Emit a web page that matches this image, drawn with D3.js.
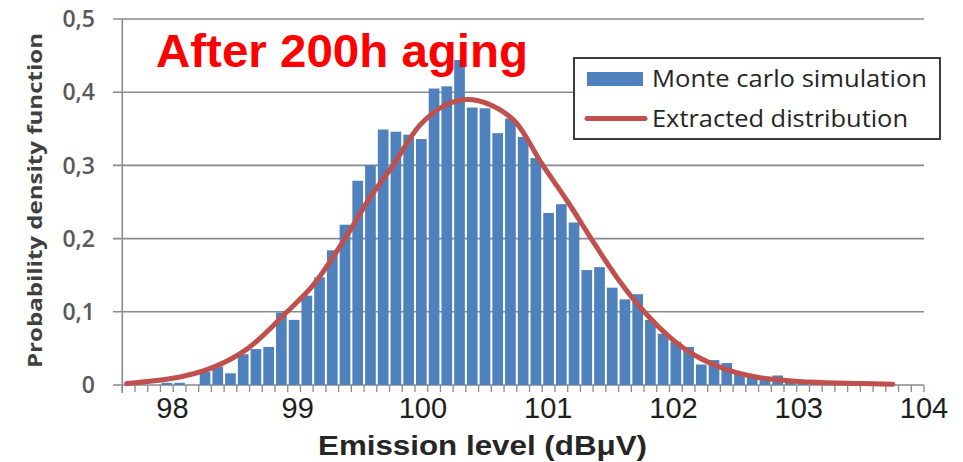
<!DOCTYPE html>
<html><head><meta charset="utf-8">
<script src="https://cdn.jsdelivr.net/npm/d3@7"></script>
<style>body{margin:0;background:#fff}svg{display:block}</style>
</head><body>
<svg id="c" width="963" height="462"></svg>
<script>
// ---- data ----
const binIndex = d3.range(63); // histogram bins (categories)
const mcDensity = [0,0,0,0.003,0.003,0,0.018,0.025,0.016,0.042,
  0.049,0.052,0.099,0.089,0.122,0.147,0.184,0.219,0.279,0.300,
  0.349,0.346,0.342,0.336,0.405,0.408,0.444,0.379,0.378,0.344,
  0.364,0.339,0.310,0.235,0.247,0.222,0.157,0.161,0.133,0.117,
  0.124,0.089,0.070,0.059,0.052,0.028,0.034,0.030,0.016,0.011,
  0.009,0.013,0.004,0.003,0.002,0.002,0,0,0,0,0,0,0];
const fitX = [97.635,98.061,98.324,98.595,98.915,99.122,99.378,99.577,99.761,99.976,
  100.175,100.351,100.535,100.735,100.950,101.157,101.373,101.573,101.772,101.972,
  102.155,102.427,102.690,103.090,103.489,103.752];
const fitY = [0.002,0.011,0.024,0.049,0.100,0.136,0.200,0.256,0.300,0.355,
  0.382,0.390,0.383,0.360,0.302,0.250,0.192,0.141,0.099,0.065,
  0.042,0.021,0.010,0.004,0.002,0.001];
const xTickValues = [98,99,100,101,102,103,104];
const yTickValues = [0,0.1,0.2,0.3,0.4,0.5];
const yTickLabels = ["0","0,1","0,2","0,3","0,4","0,5"];
const titleText = "After 200h aging";
const xTitle = "Emission level (dBμV)";
const yTitle = "Probability density function";
const legendLabels = ["Monte carlo simulation","Extracted distribution"];

// ---- layout ----
const L = 122.3, R = 924, T = 19, B = 385;
const svg = d3.select("#c");

const y = d3.scaleLinear().domain([0,0.5]).range([B,T]);
const xb = d3.scaleBand().domain(binIndex).range([L,R]).paddingInner(0.16).paddingOuter(0.08);
const xEdge = d3.scaleLinear().domain([0,binIndex.length]).range([L,R]);
const xE = d3.scaleLinear().domain([97.6,104]).range([L,R]);

// gridlines
svg.append("g").selectAll("line").data(yTickValues).join("line")
  .attr("x1",113).attr("x2",R).attr("y1",d=>y(d)).attr("y2",d=>y(d))
  .attr("stroke","#8a8a8a").attr("stroke-width",1.6);

// y axis line
svg.append("line").attr("x1",L).attr("x2",L).attr("y1",T).attr("y2",B+8)
  .attr("stroke","#8a8a8a").attr("stroke-width",1.6);

// x ticks at bin edges
svg.append("g").selectAll("line").data(d3.range(binIndex.length+1)).join("line")
  .attr("x1",d=>xEdge(d)).attr("x2",d=>xEdge(d)).attr("y1",B).attr("y2",B+7)
  .attr("stroke","#8a8a8a").attr("stroke-width",1.3);

// bars
svg.append("g").selectAll("rect").data(binIndex).join("rect")
  .attr("x",i=>xb(i)).attr("width",xb.bandwidth())
  .attr("y",i=>y(mcDensity[i])).attr("height",i=>B-y(mcDensity[i]))
  .attr("fill","#4f81bd");

// fitted curve
const line = d3.line().x(d=>xE(d[0])).y(d=>y(d[1])).curve(d3.curveCatmullRom.alpha(0.5));
svg.append("path").datum(d3.zip(fitX,fitY)).attr("d",line)
  .attr("fill","none").attr("stroke","#c0504d").attr("stroke-width",5)
  .attr("stroke-linecap","round").attr("stroke-linejoin","round");

// y tick labels
svg.append("g").selectAll("text").data(yTickValues).join("text")
  .attr("x",95).attr("y",d=>y(d)).attr("dy","0.36em")
  .attr("text-anchor","end").attr("font-family","'Open Sans',sans-serif")
  .attr("font-weight",600).attr("font-size",23).attr("fill","#595959")
  .text((d,i)=>yTickLabels[i]);

// x tick labels
svg.append("g").selectAll("text").data(xTickValues).join("text")
  .attr("x",d=>xE(d)).attr("y",418)
  .attr("text-anchor","middle").attr("font-family","'Liberation Sans',Arial,sans-serif")
  .attr("font-size",29).attr("fill","#1e1e1e")
  .text(d=>d);

// axis titles
svg.append("text").attr("x",482.5).attr("y",455).attr("text-anchor","middle")
  .attr("font-family","'Liberation Sans',Arial,sans-serif").attr("font-weight","bold")
  .attr("font-size",27).attr("fill","#262626")
  .attr("textLength",329).attr("lengthAdjust","spacingAndGlyphs").text(xTitle);

svg.append("text").attr("transform","translate(41.5,200.5) rotate(-90)")
  .attr("text-anchor","middle").attr("font-family","'Open Sans',sans-serif")
  .attr("font-weight","bold").attr("font-size",20).attr("fill","#404040")
  .attr("textLength",335).attr("lengthAdjust","spacingAndGlyphs").text(yTitle);

// title
svg.append("text").attr("x",156).attr("y",67)
  .attr("font-family","'Liberation Sans',Arial,sans-serif").attr("font-weight","bold")
  .attr("font-size",46).attr("fill","#ff0000")
  .attr("textLength",372).attr("lengthAdjust","spacingAndGlyphs").text(titleText);

// legend
const lg = svg.append("g");
lg.append("rect").attr("x",574).attr("y",58).attr("width",366).attr("height",81)
  .attr("fill","#fff").attr("stroke","#3c3c3c").attr("stroke-width",2);
lg.append("rect").attr("x",587).attr("y",72).attr("width",56).attr("height",14).attr("fill","#4f81bd");
lg.append("line").attr("x1",587).attr("x2",645).attr("y1",118.5).attr("y2",118.5)
  .attr("stroke","#c0504d").attr("stroke-width",5).attr("stroke-linecap","round");
lg.selectAll("text.lt").data(legendLabels).join("text").attr("class","lt")
  .attr("x",652).attr("y",(d,i)=>i===0?87:127)
  .attr("font-family","'Open Sans',sans-serif").attr("font-size",24).attr("fill","#262626")
  .attr("textLength",(d,i)=>i===0?275:256).attr("lengthAdjust","spacingAndGlyphs")
  .text(d=>d);
</script>
</body></html>
